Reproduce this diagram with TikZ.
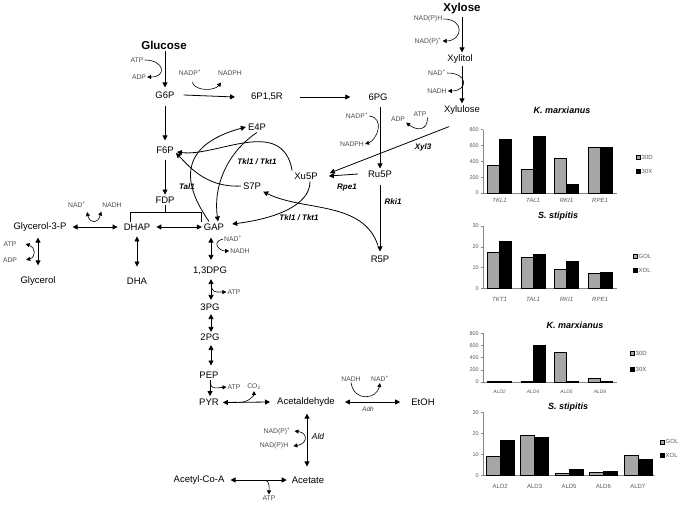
\documentclass[tikz,border=0pt]{standalone}
\usepackage{fontspec}
\setmainfont{Liberation Sans}
\usetikzlibrary{arrows.meta,calc}
\definecolor{barg}{RGB}{166,166,166}
\definecolor{axcol}{RGB}{134,134,134}
\definecolor{tkcol}{RGB}{89,89,89}
\begin{document}
\begin{tikzpicture}[x=1pt,y=-1pt,
  met/.style={font=\fontsize{9.5}{11}\selectfont, inner sep=2pt},
  bmet/.style={font=\fontsize{11.5}{13}\selectfont\bfseries, inner sep=2pt},
  cof/.style={font=\fontsize{6.8}{8}\selectfont, text=black!70, inner sep=1pt},
  enz/.style={font=\fontsize{8}{9}\selectfont\bfseries\itshape, inner sep=1pt},
  arr/.style={line width=0.8pt, -{Triangle[length=5pt,width=5pt]}},
  darr/.style={line width=0.8pt, {Triangle[length=5pt,width=5pt]}-{Triangle[length=5pt,width=5pt]}},
  carr/.style={line width=0.6pt, -{Triangle[length=4pt,width=4pt]}},
  cdarr/.style={line width=0.6pt, {Triangle[length=4pt,width=4pt]}-{Triangle[length=4pt,width=4pt]}},
  ctitle/.style={font=\fontsize{9}{10}\selectfont\bfseries\itshape, inner sep=1pt},
  ylab/.style={font=\fontsize{5.5}{6}\selectfont, text=tkcol, inner sep=1pt, anchor=east},
  xlab/.style={font=\fontsize{6}{7}\selectfont\itshape, text=tkcol, inner sep=1pt},
  xlabr/.style={font=\fontsize{6}{7}\selectfont, text=tkcol, inner sep=1pt},
  leg/.style={font=\fontsize{6}{7}\selectfont, text=tkcol, inner sep=1pt, anchor=west},
  axis/.style={draw=axcol, line width=0.5pt},
  gbar/.style={fill=barg, draw=black, line width=0.4pt},
  kbar/.style={fill=black, draw=black, line width=0.4pt},
]
\useasboundingbox (0,0) rectangle (685,505);

% ---------------- metabolites ----------------
\node[bmet] (glc) at (164,45) {Glucose};
\node[cof] (atp1) at (137,60) {ATP};
\node[cof] (adp1) at (139,77) {ADP};
\node[met] (g6p) at (165,95) {G6P};
\node[cof] (nadp1) at (190,73) {NADP\textsuperscript{+}};
\node[cof] (nadph1) at (230,73) {NADPH};
\node[met] (p6r) at (267,97) {6P1,5R};
\node[met] (pg6) at (378,97) {6PG};
\node[bmet] (xyl) at (462,9) {Xylose};
\node[cof] (nx1) at (428,19) {NAD(P)H};
\node[cof] (nx2) at (428,41) {NAD(P)\textsuperscript{+}};
\node[met] (xoh) at (460,59) {Xylitol};
\node[cof] (nx3) at (437,73) {NAD\textsuperscript{+}};
\node[cof] (nx4) at (437,91) {NADH};
\node[met] (xu) at (462,110) {Xylulose};
\node[cof] (nadp2) at (357,116) {NADP\textsuperscript{+}};
\node[cof] (nadph2) at (352,144) {NADPH};
\node[cof] (adp3) at (398,119) {ADP};
\node[cof] (atp3) at (420,114) {ATP};
\node[enz] (xyl3) at (423,147) {Xyl3};
\node[met] (xu5p) at (306,176) {Xu5P};
\node[met] (ru5p) at (380,174) {Ru5P};
\node[enz] (rpe1) at (347,188) {Rpe1};
\node[enz] (rki1) at (393,202) {Rki1};
\node[met] (r5p) at (380,259) {R5P};
\node[met] (f6p) at (165,150) {F6P};
\node[met] (fdp) at (165,200) {FDP};
\node[met] (e4p) at (257,127) {E4P};
\node[met] (s7p) at (252,186) {S7P};
\node[enz] (tk1) at (257,162) {Tkl1 / Tkt1};
\node[enz] (tal1) at (187,187) {Tal1};
\node[enz] (tk2) at (299,218) {Tkl1 / Tkt1};
\node[met] (g3p) at (40,227) {Glycerol-3-P};
\node[met] (dhap) at (137,227) {DHAP};
\node[met] (gap) at (214,227) {GAP};
\node[cof] (nadg) at (77,205) {NAD\textsuperscript{+}};
\node[cof] (nadhg) at (112,205) {NADH};
\node[cof] (atpg) at (10,244) {ATP};
\node[cof] (adpg) at (10,260) {ADP};
\node[met] (glyc) at (38,281) {Glycerol};
\node[met] (dha) at (137,281) {DHA};
\node[cof] (nadgap) at (233,239) {NAD\textsuperscript{+}};
\node[cof] (nadhgap) at (240,251) {NADH};
\node[met] (dpg) at (210,271) {1,3DPG};
\node[cof] (atp4) at (234,292) {ATP};
\node[met] (pg3) at (210,307.5) {3PG};
\node[met] (pg2) at (210,337.5) {2PG};
\node[met] (pep) at (209,375) {PEP};
\node[cof] (atp5) at (234,387) {ATP};
\node[cof] (co2) at (254,387) {CO\textsubscript{2}};
\node[met] (pyr) at (209,402.5) {PYR};
\node[met] (acal) at (306,402) {Acetaldehyde};
\node[cof] (nadh6) at (351,379) {NADH};
\node[cof] (nad6) at (380,379) {NAD\textsuperscript{+}};
\node[font=\fontsize{6.5}{7}\selectfont\itshape, text=black!75, inner sep=1pt] (adh) at (368,409) {Adh};
\node[met] (etoh) at (423,402) {EtOH};
\node[cof] (nadp7) at (277,431) {NAD(P)\textsuperscript{+}};
\node[cof] (nadph7) at (274,446) {NAD(P)H};
\node[font=\fontsize{8.5}{9}\selectfont\itshape, inner sep=1pt] (ald) at (318,436) {Ald};
\node[met] (acet) at (308,480) {Acetate};
\node[met] (acoa) at (199,480) {Acetyl-Co-A};
\node[cof] (atp8) at (269,498) {ATP};

% ---------------- upper pathway ----------------
\draw[arr] (g6p.north |- glc.south) -- ($(g6p.north)+(0,-2)$);
\draw[carr] (atp1.east) .. controls +(20,0) and +(20,0) .. (adp1.east);
\draw[arr] ($(g6p.east)+(7,0)$) -- ($(p6r.west)+(-14,0)$);
\draw[carr] ($(nadp1.south)+(2,5)$) .. controls +(4,10) and +(-6,8) .. ($(nadph1.south)+(-9,6)$);
\draw[arr] ($(p6r.east)+(15,0)$) -- ($(pg6.west)+(-16,0)$);
\draw[arr] ($(ru5p.north |- pg6.south)+(0,4)$) -- (ru5p.north);
\draw[carr] (nadp2.east) .. controls +(16,2) and +(12,-4) .. (nadph2.east);
\draw[arr] ($(ru5p.west)+(-8,0)$) -- ($(xu5p.east)+(9,0)$);
\draw[arr] ($(xu.south)+(-13,10)$) -- ($(xu5p.east)+(10,-3)$);
\draw[carr] (atp3.south east) .. controls +(0,14) and +(10,8) .. (adp3.south east);
% xylose branch
\draw[arr] (xyl.south) -- (xyl.south |- xoh.north);
\draw[carr] (nx1.east) .. controls +(22,0) and +(20,0) .. (nx2.east);
\draw[arr] (xyl.south |- xoh.south) -- (xyl.south |- xu.north);
\draw[carr] (nx3.east) .. controls +(22,0) and +(20,0) .. (nx4.east);
% Ru5P -> R5P
\draw[arr] ($(ru5p.south)+(0,5)$) -- ($(r5p.north)+(0,-2)$);

% ---------------- glycolysis ----------------
\draw[arr] ($(g6p.south)+(0,5)$) -- ($(f6p.north)+(0,-4)$);
\draw[arr] ($(f6p.south)+(0,4)$) -- (fdp.north);
\coordinate (brl) at (130,222);
\coordinate (brr) at (201.5,222);
\draw[line width=0.7pt] (fdp.south) -- (fdp.south |- 0,212.5);
\draw[line width=0.7pt] (brl) -- ++(0,-9.5) -| (brr);
\draw[darr] ($(dhap.east)+(4,0)$) -- (gap.west);
\draw[darr] ($(g3p.east)+(4,0)$) -- ($(dhap.west)+(-4,0)$);
\draw[cdarr] ($(nadg.south east)+(0,3)$) .. controls +(3,12) and +(-3,12) .. ($(nadhg.south west)+(0,3)$);
\draw[darr] ($(glyc.north |- g3p.south)+(0,4)$) -- ($(glyc.north)+(0,-9)$);
\draw[cdarr] ($(atpg.east)+(8,0)$) .. controls +(10,3) and +(10,-3) .. ($(adpg.east)+(8,0)$);
\draw[darr] ($(dhap.south)+(0,4)$) -- ($(dha.north)+(0,-9)$);
\draw[darr] ($(dpg.north |- gap.south)+(1,5)$) -- ($(dpg.north)+(1,-5)$);
\draw[carr] (nadgap.west) .. controls +(-12,3) and +(-10,0) .. (nadhgap.west);
\draw[darr] ($(dpg.south)+(1,2)$) -- ($(pg3.north)+(1,-2)$);
\draw[carr] ($(dpg.south)+(1,8)$) .. controls +(2,7) .. (atp4.west);
\draw[darr] ($(pg3.south)+(1,1)$) -- ($(pg2.north)+(1,0)$);
\draw[darr] ($(pg2.south)+(1,2)$) -- ($(pep.north)+(2,-4)$);
\draw[arr] ($(pep.south)+(1,0)$) -- ($(pyr.north)+(1,-1)$);
\draw[carr] ($(pep.south)+(1,2)$) .. controls +(2,6) .. (atp5.west);
\draw[darr] ($(pyr.east)+(2,0)$) -- ($(acal.west)+(-5,0)$);
\draw[carr] ($(pyr.east)+(18,0)$) .. controls +(10,0) and +(0,4) .. (co2.south);
\draw[darr] ($(acal.east)+(8,0)$) -- ($(etoh.west)+(-9,0)$);
\draw[carr] (nadh6.south) .. controls +(3,20) and +(-3,16) .. (nad6.south);
\draw[darr] ($(acal.south)+(1,5)$) -- ($(acal.south |- acet.north)+(1,-8)$);
\draw[cdarr] ($(nadp7.east)+(3,0)$) .. controls +(14,2) and +(14,-2) .. ($(nadph7.east)+(4,0)$);
\draw[darr] ($(acoa.east)+(4,0)$) -- ($(acet.west)+(-3,0)$);
\draw[carr] ($(acoa.east)+(38,0)$) .. controls +(6,0) and +(0,-4) .. (atp8.north);

% ---------------- PPP curves ----------------
\draw[arr] (xu5p.north west) .. controls +(-10,-55) and +(40,5) .. ($(f6p.east)+(1,2)$);
\draw[arr] (e4p.south) .. controls +(-30,20) and +(-5,-35) .. ($(gap.north)+(4,0)$);
\draw[arr] ($(gap.north)+(-5,0)$) .. controls +(-35,-50) and +(-55,15) .. (e4p.west);
\draw[arr] (s7p.west) .. controls +(-35,2) and +(12,12) .. ($(f6p.east)+(0,3)$);
\draw[arr] ($(xu5p.south)+(4,0)$) .. controls +(0,25) and +(40,-5) .. ($(gap.east)+(6,-3)$);
\draw[arr] ($(r5p.north)+(-2,-8)$) .. controls +(-15,-45) and +(40,20) .. (s7p.south east);

% ---------------- chart 1 ----------------
\node[ctitle] (t1) at (562,110) {K. marxianus};
\draw[axis] (483,129.6) -- (483,193) -- (617,193);
\foreach \v in {0,200,400,600,800} {
  \pgfmathsetmacro\yy{193-0.0793*\v}
  \draw[axis] (480.5,\yy) -- (483,\yy);
  \node[ylab] (c1y\v) at (480,\yy) {\v};
}
\foreach \i/\a/\b/\lab in {0/345/675/TKL1, 1/297/720/TAL1, 2/436/116/RKI1, 3/572/572/RPE1} {
  \pgfmathsetmacro\xa{483+33.5*\i+4.5}
  \pgfmathsetmacro\xb{\xa+12}
  \pgfmathsetmacro\xc{\xb+12}
  \pgfmathsetmacro\ya{193-0.0793*\a}
  \pgfmathsetmacro\yb{193-0.0793*\b}
  \filldraw[gbar] (\xa,193) rectangle (\xb,\ya);
  \filldraw[kbar] (\xb,193) rectangle (\xc,\yb);
  \node[xlab] (c1x\i) at (\xb,200) {\lab};
}
\filldraw[gbar] (636,155) rectangle (640,159);
\node[leg] (l1a) at (640.5,157) {30D};
\filldraw[kbar] (636,169) rectangle (640,173);
\node[leg] (l1b) at (640.5,171) {30X};

% ---------------- chart 2 ----------------
\node[ctitle] (t2) at (558,216) {S. stipitis};
\draw[axis] (483,226) -- (483,288.3) -- (617,288.3);
\foreach \v in {0,10,20,30} {
  \pgfmathsetmacro\yy{288.3-2.075*\v}
  \draw[axis] (480.5,\yy) -- (483,\yy);
  \node[ylab] (c2y\v) at (480,\yy) {\v};
}
\foreach \i/\a/\b/\lab in {0/17.6/22.9/TKT1, 1/14.9/16.4/TAL1, 2/9.2/13.2/RKI1, 3/7.2/7.7/RPE1} {
  \pgfmathsetmacro\xa{483+33.5*\i+4.5}
  \pgfmathsetmacro\xb{\xa+12}
  \pgfmathsetmacro\xc{\xb+12}
  \pgfmathsetmacro\ya{288.3-2.075*\a}
  \pgfmathsetmacro\yb{288.3-2.075*\b}
  \filldraw[gbar] (\xa,288.3) rectangle (\xb,\ya);
  \filldraw[kbar] (\xb,288.3) rectangle (\xc,\yb);
  \node[xlab] (c2x\i) at (\xb,299) {\lab};
}
\filldraw[gbar] (633,254) rectangle (637,258);
\node[leg] (l2a) at (637.5,256) {GOL};
\filldraw[kbar] (633,268) rectangle (637,272);
\node[leg] (l2b) at (637.5,270) {XOL};

% ---------------- chart 3 ----------------
\node[ctitle] (t3) at (575,325) {K. marxianus};
\draw[axis] (483,333.3) -- (483,382) -- (617,382);
\foreach \v in {0,200,400,600,800} {
  \pgfmathsetmacro\yy{382-0.0609*\v}
  \draw[axis] (480.5,\yy) -- (483,\yy);
  \node[ylab] (c3y\v) at (480,\yy) {\v};
}
\foreach \i/\a/\b/\lab in {0/12/12/ALD2, 1/12/605/ALD4, 2/495/12/ALD5, 3/60/12/ALD6} {
  \pgfmathsetmacro\xa{483+33.5*\i+4.5}
  \pgfmathsetmacro\xb{\xa+12}
  \pgfmathsetmacro\xc{\xb+12}
  \pgfmathsetmacro\ya{382-0.0609*\a}
  \pgfmathsetmacro\yb{382-0.0609*\b}
  \filldraw[gbar] (\xa,382) rectangle (\xb,\ya);
  \filldraw[kbar] (\xb,382) rectangle (\xc,\yb);
  \node[xlab, font=\fontsize{5}{6}\selectfont\itshape] (c3x\i) at (\xb,392) {\lab};
}
\filldraw[gbar] (630,351) rectangle (634,355);
\node[leg] (l3a) at (634.5,353) {30D};
\filldraw[kbar] (630,367) rectangle (634,371);
\node[leg] (l3b) at (634.5,369) {30X};

% ---------------- chart 4 ----------------
\node[ctitle] (t4) at (568,407) {S. stipitis};
\draw[axis] (483,412.3) -- (483,475.3) -- (655,475.3);
\foreach \v in {0,10,20,30} {
  \pgfmathsetmacro\yy{475.3-2.1*\v}
  \draw[axis] (480.5,\yy) -- (483,\yy);
  \node[ylab] (c4y\v) at (480,\yy) {\v};
}
\foreach \i/\a/\b/\lab in {0/9.2/16.5/ALD2, 1/19/18.1/ALD3, 2/1.2/2.8/ALD5, 3/1.6/2/ALD6, 4/9.7/7.6/ALD7} {
  \pgfmathsetmacro\xa{483+34.4*\i+3.2}
  \pgfmathsetmacro\xb{\xa+14}
  \pgfmathsetmacro\xc{\xb+14}
  \pgfmathsetmacro\ya{475.3-2.1*\a}
  \pgfmathsetmacro\yb{475.3-2.1*\b}
  \filldraw[gbar] (\xa,475.3) rectangle (\xb,\ya);
  \filldraw[kbar] (\xb,475.3) rectangle (\xc,\yb);
  \node[xlabr] (c4x\i) at (\xb,486) {\lab};
}
\filldraw[gbar] (660,439.7) rectangle (664,443.7);
\node[leg] (l4a) at (664.5,441.7) {GOL};
\filldraw[kbar] (660,453) rectangle (664,457);
\node[leg] (l4b) at (664.5,455) {XOL};
\end{tikzpicture}
\end{document}
